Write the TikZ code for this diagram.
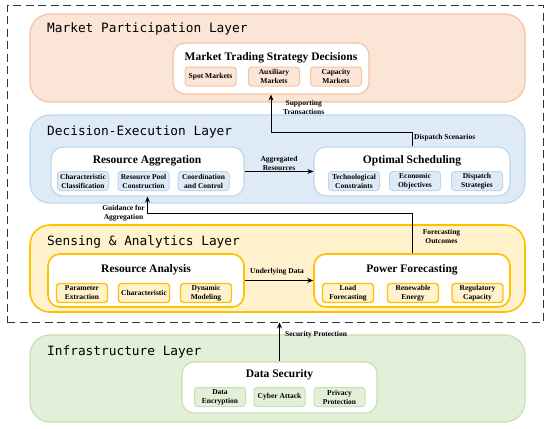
\documentclass[tikz,border=0pt]{standalone}
\usepackage{fontspec}
\setmainfont{Liberation Serif}
\newfontfamily\monof{DejaVu Sans Mono}
\usetikzlibrary{arrows.meta,fit}
\definecolor{mkfill}{HTML}{FBE5D6}\definecolor{mkline}{HTML}{F6C3A3}
\definecolor{defill}{HTML}{DEEBF7}\definecolor{deline}{HTML}{BDD7EE}
\definecolor{sefill}{HTML}{FFF2CC}\definecolor{seline}{HTML}{FFC000}
\definecolor{infill}{HTML}{E2F0D9}\definecolor{inline}{HTML}{C5E0B4}
\begin{document}
\begin{tikzpicture}[x=1pt,y=-1pt,
  layerbox/.style={rounded corners=20pt,line width=1.2pt,inner sep=0pt},
  layertitle/.style={font=\monof\fontsize{12.8}{14}\selectfont,anchor=west,inner sep=0pt},
  modbox/.style={fill=white,rounded corners=12pt,line width=1.2pt,inner sep=0pt},
  modtitle/.style={font=\bfseries\fontsize{11.5}{13}\selectfont,inner sep=0pt},
  subbox/.style={rounded corners=3pt,line width=1pt,minimum width=51pt,minimum height=19pt,
    inner sep=0pt,align=center,font=\bfseries\fontsize{7.5}{9}\selectfont},
  lbl/.style={font=\bfseries\fontsize{7.5}{9}\selectfont,align=center,inner sep=0pt},
  conn/.style={-{Stealth[length=6pt,width=5pt]},line width=0.9pt,black}]
\useasboundingbox (0,0) rectangle (550,429);
% outer dashed frame
\node[draw=black!80,line width=0.9pt,dash pattern=on 8pt off 4.5pt,inner sep=0pt,fit={(7,5) (543,322)}] (frame) {};
% layers
\node[layerbox,draw=mkline,fill=mkfill,fit={(30,14) (525,102)}] (mkl) {};
\node[layerbox,draw=deline,fill=defill,fit={(30,115) (525,203)}] (del) {};
\node[layerbox,draw=seline,fill=sefill,line width=1.6pt,fit={(30,225) (525,312)}] (sel) {};
\node[layerbox,draw=inline,fill=infill,fit={(30,335) (525,422)}] (inl) {};
\node[layertitle] (mkt) at (47,29) {Market Participation Layer};
\node[layertitle] (det) at (47,132) {Decision-Execution Layer};
\node[layertitle] (set) at (47,242) {Sensing \& Analytics Layer};
\node[layertitle] (int) at (47,352) {Infrastructure Layer};
% market module
\node[modbox,draw=mkline,fit={(173,43) (369,94)}] (mtsd) {};
\node[modtitle] (mtsdt) at (271,58) {Market Trading Strategy Decisions};
\node[subbox,draw=mkline,fill=mkfill] (spot) at (210.5,76.5) {Spot Markets};
\node[subbox,draw=mkline,fill=mkfill] (aux) at (274,76.5) {Auxiliary\\Markets};
\node[subbox,draw=mkline,fill=mkfill] (cap) at (336,76.5) {Capacity\\Markets};
% decision modules
\node[modbox,draw=deline,fit={(51,147) (244,196)}] (ra) {};
\node[modtitle] (rat) at (147,161) {Resource Aggregation};
\node[subbox,draw=deline,fill=defill] (cc) at (83,181) {Characteristic\\Classification};
\node[subbox,draw=deline,fill=defill] (rpc) at (143.5,181) {Resource Pool\\Construction};
\node[subbox,draw=deline,fill=defill] (cac) at (203.5,181) {Coordination\\and Control};
\node[modbox,draw=deline,fit={(314,147) (510,196)}] (os) {};
\node[modtitle] (ost) at (412,161) {Optimal Scheduling};
\node[subbox,draw=deline,fill=defill] (tc) at (354,181) {Technological\\Constraints};
\node[subbox,draw=deline,fill=defill] (eo) at (415,181) {Economic\\Objectives};
\node[subbox,draw=deline,fill=defill] (dst) at (477,181) {Dispatch\\Strategies};
% sensing modules
\node[modbox,draw=seline,line width=1.6pt,fit={(48,254) (244,307)}] (ran) {};
\node[modtitle] (rant) at (146,270) {Resource Analysis};
\node[subbox,draw=seline,fill=sefill,line width=1.4pt] (pe) at (82,293) {Parameter\\Extraction};
\node[subbox,draw=seline,fill=sefill,line width=1.4pt] (ch) at (144,293) {Characteristic};
\node[subbox,draw=seline,fill=sefill,line width=1.4pt] (dm) at (206,293) {Dynamic\\Modeling};
\node[modbox,draw=seline,line width=1.6pt,fit={(314,254) (510,307)}] (pf) {};
\node[modtitle] (pft) at (412,270) {Power Forecasting};
\node[subbox,draw=seline,fill=sefill,line width=1.4pt] (lf) at (348,293) {Load\\Forecasting};
\node[subbox,draw=seline,fill=sefill,line width=1.4pt] (re) at (413,293) {Renewable\\Energy};
\node[subbox,draw=seline,fill=sefill,line width=1.4pt] (rc) at (477.5,293) {Regulatory\\Capacity};
% infrastructure module
\node[modbox,draw=inline,fit={(182,362) (377,413)}] (ds) {};
\node[modtitle] (dst2) at (279.5,375) {Data Security};
\node[subbox,draw=inline,fill=infill] (de) at (220,397) {Data\\Encryption};
\node[subbox,draw=inline,fill=infill] (ca) at (279.5,397) {Cyber Attack};
\node[subbox,draw=inline,fill=infill] (pp) at (339.5,397) {Privacy\\Protection};
% connectors
\draw[conn,line width=0.8pt] (os.north) -- ++(0,-14) -| (mtsd.south);
\node[lbl,anchor=west] (l1) at (283,107.5) {Supporting\\Transactions};
\node[lbl,anchor=west] (l2) at (414,138) {Dispatch Scenarios};
\draw[conn] (ra.east) -- (os.west);
\node[lbl] (l3) at (279,163.5) {Aggregated\\Resources};
\draw[conn,line width=0.8pt] (pf.north) -- ++(0,-40) -| (ra.south);
\node[lbl] (l4) at (123.5,213) {Guidance for\\Aggregation};
\node[lbl] (l5) at (441.5,236.5) {Forecasting\\Outcomes};
\draw[conn] (ran.east) -- (pf.west);
\node[lbl] (l6) at (277,272) {Underlying Data};
\draw[conn] (ds.north) -- (ds.north |- frame.south);
\node[lbl,anchor=west] (l7) at (285,335) {Security Protection};
\end{tikzpicture}
\end{document}
